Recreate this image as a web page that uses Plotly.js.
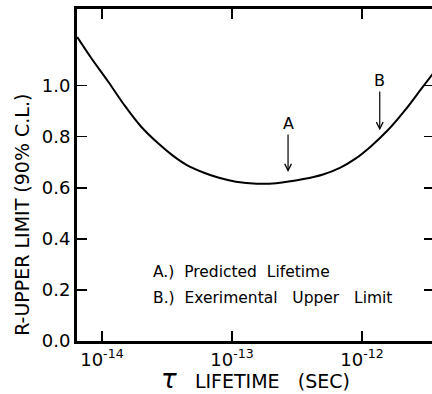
<!DOCTYPE html>
<html>
<head>
<meta charset="utf-8">
<script src="https://cdn.plot.ly/plotly-3.0.1.min.js"></script>
<style>
html,body{margin:0;padding:0;background:#fff;overflow:hidden;}
#chart{width:436px;height:394px;}
</style>
</head>
<body>
<div id="chart"></div>
<script>
// Curve: log10(lifetime in seconds) and R upper limit (90% C.L.)
var logTau = [-14.19, -14.08, -13.95, -13.83, -13.70, -13.57, -13.46, -13.35, -13.22, -13.10, -12.97, -12.81, -12.66, -12.45, -12.30, -12.17, -12.05, -11.93, -11.80, -11.67, -11.55, -11.45];
var rLimit = [1.19, 1.106, 1.014, 0.925, 0.840, 0.775, 0.728, 0.690, 0.660, 0.639, 0.624, 0.616, 0.618, 0.634, 0.652, 0.678, 0.714, 0.763, 0.826, 0.903, 0.983, 1.05];

// Marked lifetimes: A = predicted, B = experimental upper limit
var markLabels = ['A', 'B'];
var markTau = [2.70e-13, 1.37e-12];
var markTipR = [0.662, 0.825];
var markTextR = [0.852, 1.02];

var yTickVals = [0, 0.2, 0.4, 0.6, 0.8, 1.0];
var yTickText = ['0.0', '0.2', '0.4', '0.6', '0.8', '1.0'];
var xTickVals = [1e-14, 1e-13, 1e-12];
var xTickText = ['10<sup>-14</sup>', '10<sup>-13</sup>', '10<sup>-12</sup>'];

var tau = logTau.map(function (v) { return Math.pow(10, v); });

var annotations = [];
for (var i = 0; i < markLabels.length; i++) {
  annotations.push({
    x: Math.log10(markTau[i]), y: markTipR[i], xref: 'x', yref: 'y',
    ax: Math.log10(markTau[i]), ay: markTextR[i], axref: 'x', ayref: 'y',
    text: markLabels[i], showarrow: true, arrowhead: 5, arrowsize: 1.1, arrowwidth: 1.2,
    arrowcolor: '#000', standoff: 0, startstandoff: 0,
    font: {family: 'DejaVu Sans', size: 16, color: '#000'}
  });
}
annotations.push({
  xref: 'paper', yref: 'paper', x: 0.208, y: 0.208, xanchor: 'left', yanchor: 'middle', showarrow: false,
  text: 'A.)\u00A0 Predicted\u00A0\u00A0Lifetime',
  font: {family: 'DejaVu Sans', size: 15.5, color: '#000'}
});
annotations.push({
  xref: 'paper', yref: 'paper', x: 0.208, y: 0.13, xanchor: 'left', yanchor: 'middle', showarrow: false,
  text: 'B.)\u00A0 Exerimental\u00A0\u00A0\u00A0Upper\u00A0\u00A0 Limit',
  font: {family: 'DejaVu Sans', size: 15.5, color: '#000'}
});
// y-axis title (rotated text; in the reference it sits below the plot centre)
annotations.push({
  xref: 'paper', yref: 'paper', x: -0.154, y: 0.38, xanchor: 'center', yanchor: 'middle', showarrow: false,
  textangle: -90,
  text: 'R-UPPER LIMIT (90% C.L.)',
  font: {family: 'DejaVu Sans', size: 19, color: '#000'}
});

var trace = {
  x: tau, y: rLimit, type: 'scatter', mode: 'lines',
  line: {color: '#000', width: 2, shape: 'spline', smoothing: 1},
  hoverinfo: 'skip'
};

var layout = {
  width: 436, height: 394,
  margin: {l: 77, r: 2, t: 9, b: 53},
  paper_bgcolor: '#fff', plot_bgcolor: '#fff',
  showlegend: false,
  font: {family: 'DejaVu Sans', color: '#000'},
  xaxis: {
    type: 'log', range: [-14.192, -11.446],
    tickvals: xTickVals, ticktext: xTickText,
    ticks: 'inside', ticklen: 10, tickwidth: 1.5, tickcolor: '#000',
    showline: true, linewidth: 3, linecolor: '#000', mirror: 'ticks',
    showgrid: false, zeroline: false,
    tickfont: {family: 'DejaVu Sans', size: 18, color: '#000'},
    title: {text: '<span style="font-size:26px;font-style:italic">τ</span>\u00A0\u00A0 LIFETIME\u00A0\u00A0 (SEC)', font: {family: 'DejaVu Sans', size: 19, color: '#000'}, standoff: 6}
  },
  yaxis: {
    range: [0, 1.3],
    tickvals: yTickVals, ticktext: yTickText,
    ticks: 'inside', ticklen: 10, tickwidth: 1.5, tickcolor: '#000',
    showline: true, linewidth: 3, linecolor: '#000', mirror: 'ticks',
    showgrid: false, zeroline: false,
    tickfont: {family: 'DejaVu Sans', size: 18, color: '#000'}
  },
  annotations: annotations
};

Plotly.newPlot('chart', [trace], layout, {staticPlot: true, displayModeBar: false});
</script>
</body>
</html>
